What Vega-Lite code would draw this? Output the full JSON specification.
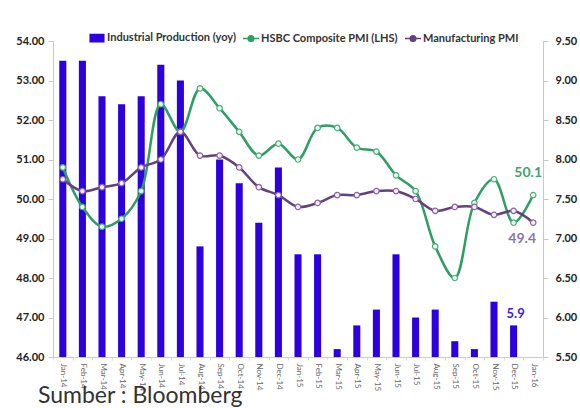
{
  "$schema": "https://vega.github.io/schema/vega-lite/v6.json",
  "width": 490,
  "height": 316,
  "autosize": "none",
  "padding": {"left": 53, "top": 41, "right": 37, "bottom": 51},
  "background": "white",
  "config": {
    "view": {"stroke": null},
    "font": "Lato",
    "axisY": {
      "grid": false,
      "labelFont": "Lato",
      "labelFontSize": 11,
      "labelFontWeight": "bold",
      "labelColor": "#222222",
      "tickSize": 5,
      "tickColor": "#c8c8c8",
      "domainColor": "#c8c8c8"
    }
  },
  "title": {
    "text": "Sumber : Bloomberg",
    "orient": "bottom",
    "anchor": "start",
    "frame": "group",
    "dx": -15,
    "offset": -6,
    "font": "Lato",
    "fontSize": 23,
    "fontWeight": "normal",
    "color": "#333333"
  },
  "data": {
    "values": [
      {"month": "Jan-14", "ip": 9.25, "hsbc": 50.8, "mfg": 50.5},
      {"month": "Feb-14", "ip": 9.25, "hsbc": 49.8, "mfg": 50.2},
      {"month": "Mar-14", "ip": 8.8, "hsbc": 49.3, "mfg": 50.3},
      {"month": "Apr-14", "ip": 8.7, "hsbc": 49.5, "mfg": 50.4},
      {"month": "May-14", "ip": 8.8, "hsbc": 50.2, "mfg": 50.8},
      {"month": "Jun-14", "ip": 9.2, "hsbc": 52.4, "mfg": 51.0},
      {"month": "Jul-14", "ip": 9.0, "hsbc": 51.7, "mfg": 51.7},
      {"month": "Aug-14", "ip": 6.9, "hsbc": 52.8, "mfg": 51.1},
      {"month": "Sep-14", "ip": 8.0, "hsbc": 52.3, "mfg": 51.1},
      {"month": "Oct-14", "ip": 7.7, "hsbc": 51.7, "mfg": 50.8},
      {"month": "Nov-14", "ip": 7.2, "hsbc": 51.1, "mfg": 50.3},
      {"month": "Dec-14", "ip": 7.9, "hsbc": 51.4, "mfg": 50.1},
      {"month": "Jan-15", "ip": 6.8, "hsbc": 51.0, "mfg": 49.8},
      {"month": "Feb-15", "ip": 6.8, "hsbc": 51.8, "mfg": 49.9},
      {"month": "Mar-15", "ip": 5.6, "hsbc": 51.8, "mfg": 50.1},
      {"month": "Apr-15", "ip": 5.9, "hsbc": 51.3, "mfg": 50.1},
      {"month": "May-15", "ip": 6.1, "hsbc": 51.2, "mfg": 50.2},
      {"month": "Jun-15", "ip": 6.8, "hsbc": 50.6, "mfg": 50.2},
      {"month": "Jul-15", "ip": 6.0, "hsbc": 50.2, "mfg": 50.0},
      {"month": "Aug-15", "ip": 6.1, "hsbc": 48.8, "mfg": 49.7},
      {"month": "Sep-15", "ip": 5.7, "hsbc": 48.0, "mfg": 49.8},
      {"month": "Oct-15", "ip": 5.6, "hsbc": 49.9, "mfg": 49.8},
      {"month": "Nov-15", "ip": 6.2, "hsbc": 50.5, "mfg": 49.6},
      {"month": "Dec-15", "ip": 5.9, "hsbc": 49.4, "mfg": 49.7},
      {"month": "Jan-16", "ip": null, "hsbc": 50.1, "mfg": 49.4}
    ]
  },
  "encoding": {
    "x": {
      "field": "month",
      "type": "ordinal",
      "sort": null,
      "scale": {"paddingInner": 0, "paddingOuter": 0},
      "axis": {
        "title": null,
        "labelAngle": 90,
        "labelFont": "Lato",
        "labelFontSize": 8,
        "labelColor": "#666666",
        "labelPadding": 3,
        "domainColor": "#cccccc",
        "ticks": true,
        "tickBand": "extent",
        "tickSize": 3,
        "tickColor": "#dddddd"
      }
    }
  },
  "layer": [
    {
      "encoding": {
        "y": {
          "field": "ip",
          "type": "quantitative",
          "scale": {"domain": [5.5, 9.5], "nice": false, "zero": false},
          "axis": {
            "orient": "right",
            "title": null,
            "values": [5.5, 6, 6.5, 7, 7.5, 8, 8.5, 9, 9.5],
            "format": ".2f",
            "labelPadding": 7
          }
        }
      },
      "layer": [
        {
          "mark": {"type": "bar", "width": {"band": 0.36}},
          "encoding": {
            "y2": {"datum": 5.5},
            "color": {
              "datum": "Industrial Production (yoy)",
              "scale": {
                "domain": ["Industrial Production (yoy)", "HSBC Composite PMI (LHS)", "Manufacturing PMI"],
                "range": ["#2d00e0", "#2f9e62", "#63407f"]
              },
              "legend": {
                "orient": "none",
                "legendX": 35,
                "legendY": -12,
                "direction": "horizontal",
                "title": null,
                "labelFont": "Lato",
                "labelFontSize": 11,
                "labelFontWeight": "bold",
                "labelColor": "#333333",
                "labelOffset": 1,
                "columnPadding": 4,
                "symbolSize": 256,
                "encode": {
                  "symbols": {
                    "update": {
                      "shape": {"signal": "datum.value == 'Industrial Production (yoy)' ? 'M-0.85,-0.45H0.85V0.45H-0.85Z' : 'M-1,0H-0.35M0.35,0H1M0.35,0A0.35,0.35,0,1,1,-0.35,0A0.35,0.35,0,1,1,0.35,0'"},
                      "fill": {"signal": "datum.value == 'Industrial Production (yoy)' ? '#2d00e0' : (datum.value == 'Manufacturing PMI' ? '#f4ecf8' : '#ebf8f0')"},
                      "stroke": {"signal": "datum.value == 'Industrial Production (yoy)' ? null : (datum.value == 'Manufacturing PMI' ? '#8a62a8' : '#48b077')"},
                      "strokeWidth": {"value": 1.5}
                    }
                  }
                }
              }
            }
          }
        },
        {
          "transform": [{"filter": "datum.month == 'Dec-15'"}],
          "mark": {"type": "text", "dy": -11, "dx": 2, "font": "Lato", "fontSize": 13, "fontWeight": "bold", "color": "#3a1ee0"},
          "encoding": {
            "text": {"field": "ip", "type": "quantitative", "format": ".1f"}
          }
        }
      ]
    },
    {
      "layer": [
        {
          "mark": {"type": "line", "interpolate": "catmull-rom", "strokeWidth": 2.5},
          "encoding": {
            "y": {
              "field": "hsbc",
              "type": "quantitative",
              "scale": {"domain": [46, 54], "nice": false, "zero": false},
              "axis": {"orient": "left", "title": null, "values": [46, 47, 48, 49, 50, 51, 52, 53, 54], "format": ".2f", "labelPadding": 4}
            },
            "color": {"datum": "HSBC Composite PMI (LHS)"}
          }
        },
        {
          "mark": {"type": "point", "filled": true, "fill": "#ebf8f0", "stroke": "#48b077", "strokeWidth": 1.2, "size": 30, "opacity": 1},
          "encoding": {
            "y": {
              "field": "hsbc",
              "type": "quantitative",
              "scale": {"domain": [46, 54], "nice": false, "zero": false},
              "axis": {"orient": "left", "title": null, "values": [46, 47, 48, 49, 50, 51, 52, 53, 54], "format": ".2f", "labelPadding": 4}
            }
          }
        },
        {
          "mark": {"type": "line", "interpolate": "catmull-rom", "strokeWidth": 2.5},
          "encoding": {
            "y": {
              "field": "mfg",
              "type": "quantitative",
              "scale": {"domain": [46, 54], "nice": false, "zero": false},
              "axis": {"orient": "left", "title": null, "values": [46, 47, 48, 49, 50, 51, 52, 53, 54], "format": ".2f", "labelPadding": 4}
            },
            "color": {"datum": "Manufacturing PMI"}
          }
        },
        {
          "mark": {"type": "point", "filled": true, "fill": "#f4ecf8", "stroke": "#8a62a8", "strokeWidth": 1.2, "size": 30, "opacity": 1},
          "encoding": {
            "y": {
              "field": "mfg",
              "type": "quantitative",
              "scale": {"domain": [46, 54], "nice": false, "zero": false},
              "axis": {"orient": "left", "title": null, "values": [46, 47, 48, 49, 50, 51, 52, 53, 54], "format": ".2f", "labelPadding": 4}
            }
          }
        },
        {
          "transform": [{"filter": "datum.month == 'Jan-16'"}],
          "mark": {"type": "text", "dy": -22, "dx": -5, "font": "Lato", "fontSize": 14, "fontWeight": "bold", "color": "#3fa56c"},
          "encoding": {
            "y": {
              "field": "hsbc",
              "type": "quantitative",
              "scale": {"domain": [46, 54], "nice": false, "zero": false},
              "axis": {"orient": "left", "title": null, "values": [46, 47, 48, 49, 50, 51, 52, 53, 54], "format": ".2f", "labelPadding": 4}
            },
            "text": {"field": "hsbc", "type": "quantitative", "format": ".1f"}
          }
        },
        {
          "transform": [{"filter": "datum.month == 'Jan-16'"}],
          "mark": {"type": "text", "dy": 16, "dx": -11, "font": "Lato", "fontSize": 14, "fontWeight": "bold", "color": "#8876ad"},
          "encoding": {
            "y": {
              "field": "mfg",
              "type": "quantitative",
              "scale": {"domain": [46, 54], "nice": false, "zero": false},
              "axis": {"orient": "left", "title": null, "values": [46, 47, 48, 49, 50, 51, 52, 53, 54], "format": ".2f", "labelPadding": 4}
            },
            "text": {"field": "mfg", "type": "quantitative", "format": ".1f"}
          }
        }
      ]
    }
  ],
  "resolve": {"scale": {"y": "independent"}, "axis": {"y": "independent"}}
}
